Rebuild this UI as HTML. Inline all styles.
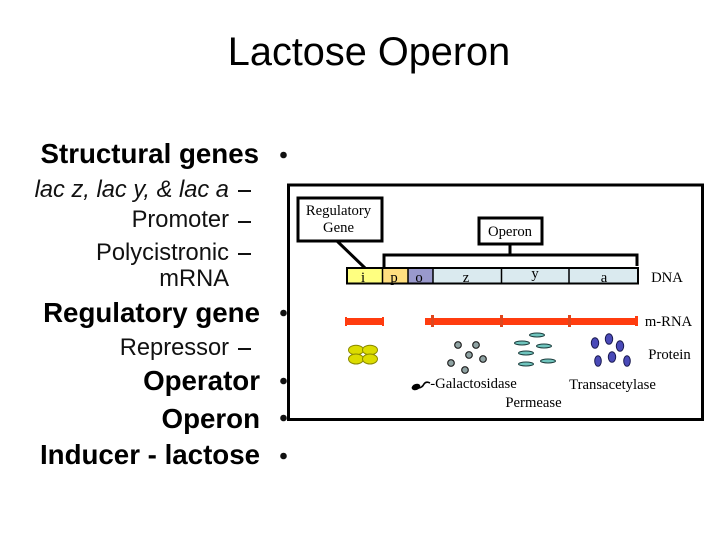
<!DOCTYPE html>
<html><head><meta charset="utf-8"><style>
html,body{margin:0;padding:0;background:#fff}
svg{display:block}
.b{font-family:"Liberation Sans",sans-serif;font-weight:bold;font-size:27.7px;text-anchor:end;fill:#000}
.r{font-family:"Liberation Sans",sans-serif;font-size:23.700px;text-anchor:end;fill:#111}
.s{font-family:"Liberation Serif",serif;font-size:14.700px;fill:#000;text-anchor:middle;-webkit-text-stroke:.3px #000}
</style></head><body>
<svg width="720" height="540" viewBox="0 0 720 540" xmlns="http://www.w3.org/2000/svg">
<rect width="720" height="540" fill="#fff"/>
<text x="369" y="65" text-anchor="middle" font-family="Liberation Sans,sans-serif" font-size="39.700" fill="#000">Lactose Operon</text>

<text class="b" x="259" y="163">Structural genes</text>
<text class="r" x="229" y="197" font-style="italic">lac z, lac y, &amp; lac a</text>
<text class="r" x="229" y="227">Promoter</text>
<text class="r" x="229" y="260">Polycistronic</text>
<text class="r" x="229" y="286">mRNA</text>
<text class="b" x="260" y="322">Regulatory gene</text>
<text class="r" x="229" y="355">Repressor</text>
<text class="b" x="260" y="390">Operator</text>
<text class="b" x="260" y="428">Operon</text>
<text class="b" x="260" y="464">Inducer - lactose</text>
<g fill="#111">
<rect x="238" y="190" width="13" height="2"/><rect x="238" y="221" width="13" height="2"/><rect x="238" y="253" width="13" height="2"/><rect x="238" y="348" width="13" height="2"/>
<circle cx="283.500" cy="155" r="3.300"/><circle cx="283.500" cy="313" r="3.300"/><circle cx="283.500" cy="381" r="3.300"/><circle cx="283.500" cy="418" r="3.300"/><circle cx="283.500" cy="456" r="3.300"/>
</g>

<rect x="288.500" y="185" width="414" height="234.500" fill="none" stroke="#000" stroke-width="3"/>

<rect x="298" y="198" width="84" height="43" fill="#fff" stroke="#000" stroke-width="3"/>
<text class="s" x="338.500" y="215">Regulatory</text>
<text class="s" x="338.500" y="232">Gene</text>
<line x1="337" y1="241" x2="365" y2="268" stroke="#000" stroke-width="3"/>

<rect x="479" y="218" width="63" height="26" fill="#fff" stroke="#000" stroke-width="3"/>
<text class="s" x="510" y="236">Operon</text>
<path d="M384 268V255H637V266M510 244V255" fill="none" stroke="#000" stroke-width="3"/>

<rect x="347" y="269" width="35" height="14" fill="#ffff80"/>
<rect x="383" y="269" width="25" height="14" fill="#ffdf80"/>
<rect x="408" y="269" width="25" height="14" fill="#9999cc"/>
<rect x="433" y="269" width="204" height="14" fill="#daeaef"/>
<rect x="347" y="268" width="291" height="15.500" fill="none" stroke="#000" stroke-width="2"/>
<path d="M382.500 268V283M408 268V283M433 268V283M501.500 268V283M569 268V283" stroke="#000" stroke-width="1.500"/>
<text class="s" x="363" y="282">i</text>
<text class="s" x="394" y="282">p</text>
<text class="s" x="419" y="282">o</text>
<text class="s" x="466" y="282">z</text>
<text class="s" x="535" y="278">y</text>
<text class="s" x="604" y="282">a</text>
<text class="s" x="667" y="282">DNA</text>

<g fill="#ff3c0f">
<rect x="345" y="318" width="39" height="7"/>
<rect x="345" y="317" width="2" height="9"/><rect x="382" y="317" width="2" height="9"/>
<rect x="425" y="318" width="212" height="7"/>
<rect x="431" y="315" width="3" height="12" fill="#e0451c"/>
<rect x="500" y="315" width="3" height="12" fill="#e0451c"/>
<rect x="568" y="315" width="3" height="12" fill="#e0451c"/>
<rect x="635" y="316" width="3" height="10"/>
</g>
<text class="s" x="668.500" y="326">m-RNA</text>
<text class="s" x="669.500" y="359">Protein</text>

<g fill="#dcdc00" stroke="#8a8a00" stroke-width="1">
<ellipse cx="356" cy="350" rx="7.500" ry="4.800"/><ellipse cx="370" cy="350" rx="7.500" ry="4.800"/>
<ellipse cx="356" cy="359" rx="7.500" ry="5"/><ellipse cx="370" cy="359" rx="7.500" ry="5"/>
</g>

<g fill="#8fa3a3" stroke="#222" stroke-width="1.200">
<circle cx="458" cy="345" r="3.300"/><circle cx="476" cy="345" r="3.300"/><circle cx="469" cy="355" r="3.300"/>
<circle cx="451" cy="363" r="3.300"/><circle cx="483" cy="359" r="3.300"/><circle cx="465" cy="370" r="3.300"/>
</g>

<g fill="#6fc4bd" stroke="#1f3f3f" stroke-width="1">
<ellipse cx="537" cy="335" rx="7.500" ry="2"/><ellipse cx="522" cy="343" rx="7.500" ry="2"/><ellipse cx="544" cy="346" rx="7.500" ry="2"/>
<ellipse cx="526" cy="353" rx="7.500" ry="2"/><ellipse cx="526" cy="364" rx="7.500" ry="2"/><ellipse cx="548" cy="361" rx="7.500" ry="2"/>
</g>

<g fill="#4a4ab8" stroke="#1a1a50" stroke-width="1">
<ellipse cx="595" cy="343" rx="3.700" ry="5.300"/><ellipse cx="609" cy="339" rx="3.700" ry="5.300"/><ellipse cx="620" cy="346" rx="3.700" ry="5.300"/>
<ellipse cx="598" cy="361" rx="3.300" ry="5.300"/><ellipse cx="612" cy="357" rx="3.700" ry="5.300"/><ellipse cx="627" cy="361" rx="3.300" ry="5.300"/>
</g>

<ellipse cx="416" cy="387" rx="4.500" ry="3" fill="#000" transform="rotate(-20 416 387)"/>
<path d="M418 388Q422 388 424 384Q426 381 430 383" fill="none" stroke="#000" stroke-width="1.600"/>
<text class="s" x="473.500" y="388">-Galactosidase</text>
<text class="s" x="533.500" y="407">Permease</text>
<text class="s" x="612.500" y="389">Transacetylase</text>
</svg>
</body></html>
